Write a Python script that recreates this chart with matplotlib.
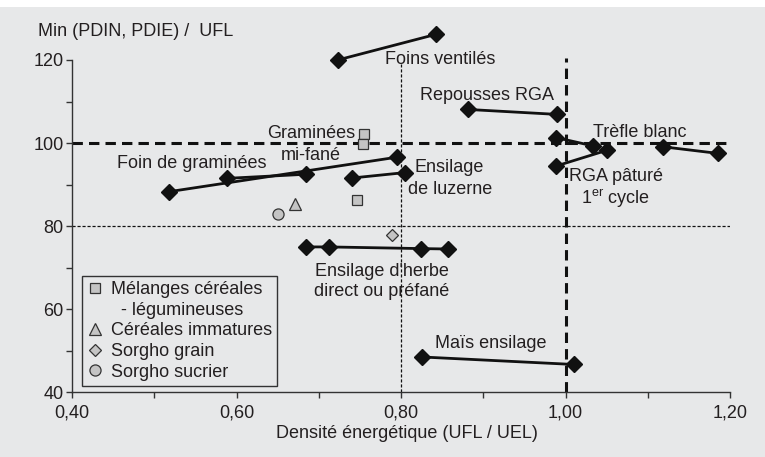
import matplotlib

matplotlib.use("Agg")

import matplotlib.pyplot as plt
from matplotlib.lines import Line2D
from matplotlib.patches import Rectangle

# black diamond series (pairs / chains joined by a line)
foins_ventiles_x = [0.723, 0.843]
foins_ventiles_y = [120.0, 126.2]
repousses_x = [0.881, 0.990]
repousses_y = [108.1, 106.9]
trefle1_x = [0.989, 1.034]
trefle1_y = [101.3, 99.3]
trefle2_x = [1.119, 1.186]
trefle2_y = [99.1, 97.5]
rga_pature_x = [0.989, 1.051]
rga_pature_y = [94.5, 98.3]
foin_gram_x = [0.518, 0.795]
foin_gram_y = [88.3, 96.6]
gram_mifane_x = [0.588, 0.685]
gram_mifane_y = [91.5, 92.5]
luzerne_x = [0.741, 0.805]
luzerne_y = [91.6, 92.9]
ens_herbe_x = [0.685, 0.712, 0.824, 0.857]
ens_herbe_y = [75.0, 75.0, 74.6, 74.5]
mais_x = [0.826, 1.010]
mais_y = [48.5, 46.7]

# grey single points
melanges_x = [0.755, 0.754, 0.747]
melanges_y = [102.1, 99.7, 86.3]
cereales_imm_x = [0.671]
cereales_imm_y = [85.3]
sorgho_grain_x = [0.789]
sorgho_grain_y = [77.8]
sorgho_sucrier_x = [0.650]
sorgho_sucrier_y = [82.9]

BG = "#e7e8e9"
TXT = "#231f20"
GREY = "#c4c4c4"
FS = 13

plt.rcParams["font.family"] = ["Liberation Sans", "DejaVu Sans"]
plt.rcParams["font.size"] = FS

fig = plt.figure(figsize=(7.65, 4.57), dpi=100, facecolor=BG)
fig.patches.append(Rectangle((0, 1 - 7 / 457), 1, 7 / 457, transform=fig.transFigure,
                             facecolor="white", edgecolor="none", zorder=-1))
ax = fig.add_axes([72 / 765, 1 - 392.3 / 457, 658 / 765, 332.3 / 457])
ax.set_facecolor(BG)
ax.set_xlim(0.40, 1.20)
ax.set_ylim(40, 120)
for s in ("top", "right"):
    ax.spines[s].set_visible(False)
for s in ("left", "bottom"):
    ax.spines[s].set_color("#333333")
    ax.spines[s].set_linewidth(1.0)

ax.set_xticks([0.4, 0.5, 0.6, 0.7, 0.8, 0.9, 1.0, 1.1, 1.2])
ax.set_xticklabels(["0,40", "", "0,60", "", "0,80", "", "1,00", "", "1,20"])
ax.set_yticks([40, 50, 60, 70, 80, 90, 100, 110, 120])
ax.set_yticklabels(["40", "", "60", "", "80", "", "100", "", "120"])
ax.tick_params(colors="#333333", labelcolor=TXT, length=4, width=1.0, labelsize=FS)
ax.tick_params(axis="x", pad=5)
ax.tick_params(axis="y", pad=2)

# reference lines
ax.plot([0.4, 1.2], [100, 100], color="#111111", lw=2.2, dashes=(3.4, 2.0), zorder=1)
ax.plot([0.4, 1.2], [80, 80], color="#111111", lw=0.9, dashes=(2.5, 1.5), zorder=1)
ax.plot([1.0, 1.0], [40, 120.5], color="#111111", lw=2.2, dashes=(3.4, 2.0), zorder=1, clip_on=False)
ax.plot([0.8, 0.8], [40, 119], color="#111111", lw=0.9, dashes=(2.5, 1.5), zorder=1)

series = [
    (foins_ventiles_x, foins_ventiles_y),
    (repousses_x, repousses_y),
    (trefle1_x, trefle1_y),
    (trefle2_x, trefle2_y),
    (rga_pature_x, rga_pature_y),
    (foin_gram_x, foin_gram_y),
    (gram_mifane_x, gram_mifane_y),
    (luzerne_x, luzerne_y),
    (ens_herbe_x, ens_herbe_y),
    (mais_x, mais_y),
]
for xs, ys in series:
    ax.plot(xs, ys, color="#111111", lw=2.0, marker="D", markersize=8.5,
            markerfacecolor="#111111", markeredgecolor="#111111", zorder=3, clip_on=False)

mk = dict(linestyle="none", markerfacecolor=GREY, markeredgecolor="#333333",
          markeredgewidth=0.9, zorder=3)
ax.plot(melanges_x, melanges_y, marker="s", markersize=7, **mk)
ax.plot(cereales_imm_x, cereales_imm_y, marker="^", markersize=9, **mk)
ax.plot(sorgho_grain_x, sorgho_grain_y, marker="D", markersize=6.5, **mk)
ax.plot(sorgho_sucrier_x, sorgho_sucrier_y, marker="o", markersize=8, **mk)


def px(x, y, s, ha="left", **kw):
    # place text in pixel coords of the 765x457 picture
    fig.text(x / 765, 1 - y / 457, s, ha=ha, va="center", color=TXT, fontsize=FS, **kw)


px(38, 32, "Min (PDIN, PDIE) /  UFL")
px(440, 59, "Foins ventilés", ha="center")
px(487, 95, "Repousses RGA", ha="center")
px(640, 132, "Trèfle blanc", ha="center")
px(616, 177, "RGA pâturé", ha="center")
px(616, 199, r"1$^{\mathregular{er}}$ cycle", ha="center")
px(415, 168, "Ensilage")
px(408, 189, "de luzerne")
px(311, 133, "Graminées", ha="center")
px(311, 155, "mi-fané", ha="center")
px(192, 164, "Foin de graminées", ha="center")
px(382, 271, "Ensilage d'herbe", ha="center")
px(382, 292, "direct ou préfané", ha="center")
px(491, 343, "Maïs ensilage", ha="center")
px(407, 434, "Densité énergétique (UFL / UEL)", ha="center")

handles = [
    Line2D([], [], marker="s", markersize=7, **mk),
    Line2D([], [], linestyle="none"),
    Line2D([], [], marker="^", markersize=9, **mk),
    Line2D([], [], marker="D", markersize=6.5, **mk),
    Line2D([], [], marker="o", markersize=8, **mk),
]
labels = ["Mélanges céréales", "  - légumineuses", "Céréales immatures",
          "Sorgho grain", "Sorgho sucrier"]
leg = ax.legend(handles, labels, loc="lower left", bbox_to_anchor=(0.015, 0.019),
                borderaxespad=0, frameon=True, fancybox=False, facecolor=BG,
                edgecolor="#333333", framealpha=1, handlelength=0.8,
                handletextpad=0.5, labelspacing=0.2, borderpad=0.3,
                fontsize=FS, labelcolor=TXT)
leg.get_frame().set_linewidth(1.0)

fig.savefig("out.png", dpi=100, facecolor=BG)
